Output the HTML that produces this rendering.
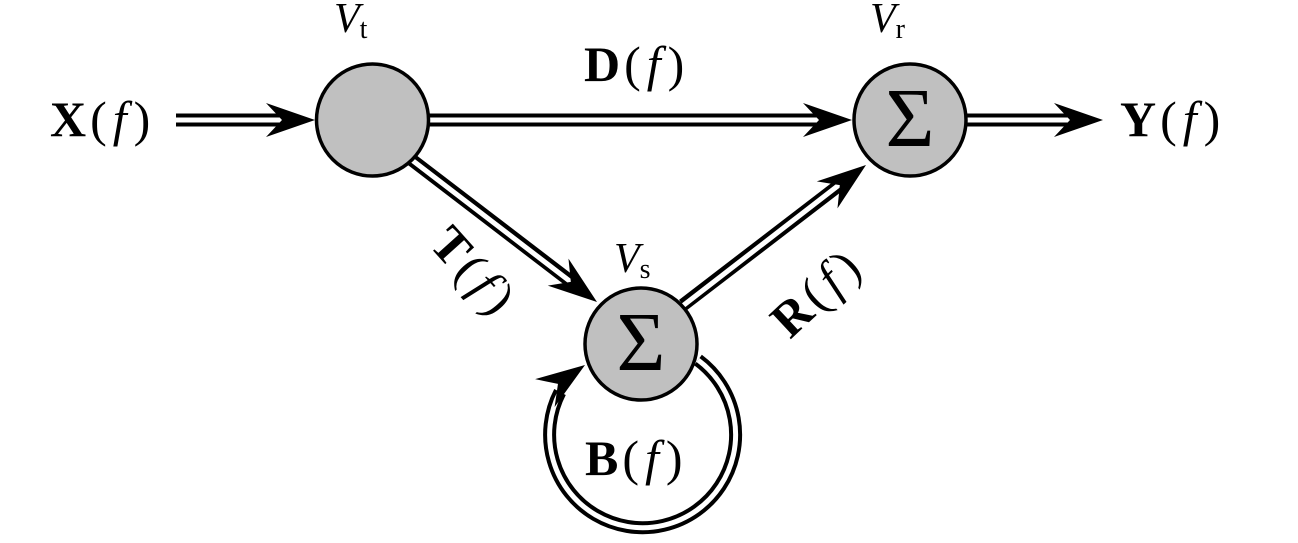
<!DOCTYPE html>
<html><head><meta charset="utf-8"><style>
html,body{margin:0;padding:0;background:#fff;}
svg{display:block;}
text{font-family:"Liberation Serif",serif;fill:#000;}
.b{font-weight:bold;}
.i{font-style:italic;}
.p{font-weight:normal;}
</style></head><body>
<svg width="1298" height="543" viewBox="0 0 1298 543" xmlns="http://www.w3.org/2000/svg">
<defs>
<path id="ah" d="M0,0 L-49,-17 L-33,0 L-49,17 Z" fill="#000"/>
</defs>
<g fill="none" stroke-linecap="butt">
  <g stroke="#000" stroke-width="13">
    <line x1="176" y1="120" x2="290" y2="120"/>
    <line x1="429" y1="120" x2="830" y2="120"/>
    <line x1="967" y1="120" x2="1078" y2="120"/>
    <line x1="412" y1="160" x2="578" y2="287"/>
    <line x1="683" y1="305" x2="846" y2="180"/>
    <path d="M698,360 A93,93 0 1 1 560,392"/>
  </g>
  <g stroke="#fff" stroke-width="5">
    <line x1="170" y1="120" x2="293" y2="120"/>
    <line x1="425" y1="120" x2="833" y2="120"/>
    <line x1="963" y1="120" x2="1081" y2="120"/>
    <line x1="408" y1="157" x2="580" y2="289"/>
    <line x1="680" y1="308" x2="848" y2="178"/>
    <path d="M698,360 A93,93 0 1 1 560,392"/>
  </g>
</g>
<use href="#ah" transform="translate(315,120)"/>
<use href="#ah" transform="translate(852,120)"/>
<use href="#ah" transform="translate(1103,120)"/>
<use href="#ah" transform="translate(597,302) rotate(37.5)"/>
<use href="#ah" transform="translate(866,165) rotate(-37.5)"/>
<use href="#ah" transform="translate(585,365) rotate(-35)"/>
<g fill="#c0c0c0" stroke="#000" stroke-width="3.5">
  <circle cx="372.5" cy="120" r="56"/>
  <circle cx="910" cy="120" r="56"/>
  <circle cx="641" cy="344" r="56"/>
</g>
<text x="910" y="146" font-size="84" text-anchor="middle">Σ</text>
<text x="641" y="370" font-size="84" text-anchor="middle">Σ</text>
<text x="50" y="136" font-size="50"><tspan class="b">X</tspan><tspan class="p" dx="4">(</tspan><tspan class="i" dx="6">f</tspan><tspan class="p" dx="7">)</tspan></text>
<text x="584" y="81" font-size="50"><tspan class="b">D</tspan><tspan class="p" dx="4">(</tspan><tspan class="i" dx="6">f</tspan><tspan class="p" dx="7">)</tspan></text>
<text x="1120" y="136" font-size="50"><tspan class="b">Y</tspan><tspan class="p" dx="4">(</tspan><tspan class="i" dx="6">f</tspan><tspan class="p" dx="7">)</tspan></text>
<text x="585" y="475" font-size="50"><tspan class="b">B</tspan><tspan class="p" dx="4">(</tspan><tspan class="i" dx="6">f</tspan><tspan class="p" dx="7">)</tspan></text>
<text font-size="50" transform="translate(428,245) rotate(48)"><tspan class="b">T</tspan><tspan class="p" dx="4">(</tspan><tspan class="i" dx="6">f</tspan><tspan class="p" dx="7">)</tspan></text>
<text font-size="50" transform="translate(790,340) rotate(-43)"><tspan class="b">R</tspan><tspan class="p" dx="4">(</tspan><tspan class="i" dx="6">f</tspan><tspan class="p" dx="7">)</tspan></text>
<text x="334" y="32" font-size="42" class="i">V<tspan font-size="28" font-style="normal" dy="6">t</tspan></text>
<text x="870" y="32" font-size="42" class="i">V<tspan font-size="28" font-style="normal" dy="6">r</tspan></text>
<text x="614" y="272" font-size="42" class="i">V<tspan font-size="28" font-style="normal" dy="6">s</tspan></text>
</svg>
</body></html>
